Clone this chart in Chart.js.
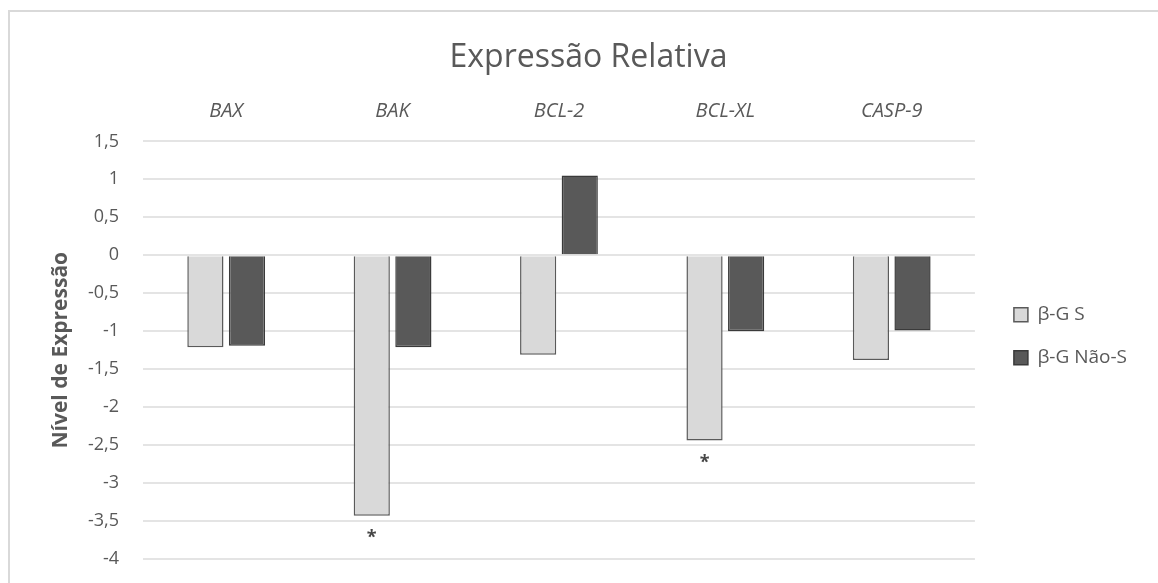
<!DOCTYPE html>
<html lang="pt">
<head>
<meta charset="utf-8">
<title>Expressão Relativa</title>
<script src="https://cdn.jsdelivr.net/npm/chart.js@4.4.1/dist/chart.umd.min.js"></script>
<style>
  html, body { margin: 0; padding: 0; background: #ffffff; }
  #wrap { width: 1158px; height: 583px; position: relative; }
</style>
</head>
<body>
<div id="wrap"><canvas id="chart" width="1158" height="583"></canvas></div>
<script>
// Genes analysed
const genes = ['BAX', 'BAK', 'BCL-2', 'BCL-XL', 'CASP-9'];
// Relative expression levels per group
const serieS = [-1.21, -3.43, -1.31, -2.44, -1.38];
const serieNaoS = [-1.19, -1.21, 1.05, -1.0, -0.99];
// Significance flags for the β-G S group
const signifS = [false, true, false, true, false];
// Value-axis range and step
const yMin = -4;
const yMax = 1.5;
const yStep = 0.5;

const textGray = '#595959';
const fontFamily = '"Open Sans", Lato, sans-serif';

// Page frame and white background
const framePlugin = {
  id: 'frame',
  beforeDraw(chart) {
    const ctx = chart.ctx;
    ctx.save();
    ctx.fillStyle = '#ffffff';
    ctx.fillRect(0, 0, chart.width, chart.height);
    ctx.strokeStyle = '#d9d9d9';
    ctx.lineWidth = 2;
    ctx.strokeRect(9, 11, chart.width + 20, chart.height + 20);
    ctx.restore();
  }
};

// Asterisks below significant bars
const starPlugin = {
  id: 'stars',
  afterDatasetsDraw(chart) {
    const meta = chart.getDatasetMeta(0);
    const ctx = chart.ctx;
    ctx.save();
    ctx.fillStyle = '#454545';
    ctx.font = 'bold 18px ' + fontFamily;
    ctx.textAlign = 'center';
    ctx.textBaseline = 'alphabetic';
    meta.data.forEach((bar, i) => {
      if (signifS[i]) {
        ctx.fillText('*', bar.x, bar.y + 27);
      }
    });
    ctx.restore();
  }
};

new Chart(document.getElementById('chart'), {
  type: 'bar',
  data: {
    labels: genes,
    datasets: [
      {
        label: 'β-G S',
        data: serieS,
        backgroundColor: '#d9d9d9',
        borderColor: '#5a5a5a',
        borderWidth: 1.5
      },
      {
        label: 'β-G Não-S',
        data: serieNaoS,
        backgroundColor: '#595959',
        borderColor: '#3a3a3a',
        borderWidth: 1.5
      }
    ]
  },
  options: {
    responsive: false,
    animation: false,
    devicePixelRatio: 1,
    layout: { padding: { top: 39, left: 40, right: 21, bottom: 24 } },
    datasets: {
      bar: { categoryPercentage: 0.5, barPercentage: 0.87 }
    },
    plugins: {
      title: {
        display: true,
        text: 'Expressão Relativa',
        color: textGray,
        font: { family: fontFamily, size: 32, weight: 'normal' },
        padding: { top: 0, bottom: 4 }
      },
      legend: {
        position: 'right',
        align: 'center',
        title: {
          display: true,
          text: ' ',
          font: { family: fontFamily, size: 12 },
          padding: { top: 60, bottom: 0 }
        },
        labels: {
          color: textGray,
          font: { family: fontFamily, size: 19 },
          boxWidth: 14,
          boxHeight: 14,
          padding: 24
        }
      },
      tooltip: { enabled: false }
    },
    scales: {
      x: {
        position: 'top',
        grid: { display: false, drawTicks: false },
        border: { display: false },
        ticks: {
          color: textGray,
          font: { family: fontFamily, size: 20, style: 'italic' },
          padding: 18
        }
      },
      y: {
        min: yMin,
        max: yMax,
        grid: {
          color: '#e4e4e4',
          lineWidth: 2,
          drawTicks: true,
          tickLength: 11,
          tickColor: 'rgba(0,0,0,0)'
        },
        border: { display: false },
        ticks: {
          stepSize: yStep,
          color: textGray,
          font: { family: fontFamily, size: 18 },
          padding: 13,
          callback: v => String(v).replace('.', ',')
        },
        title: {
          display: true,
          text: 'Nível de Expressão',
          color: textGray,
          font: { family: fontFamily, size: 21, weight: 'bold' },
          padding: { top: 8, bottom: 8 }
        },
        afterFit(scale) { scale.width = 103; }
      },
      // empty strip between the plot and the legend
      gap: {
        position: 'right',
        display: true,
        grid: { display: false, drawTicks: false },
        border: { display: false },
        ticks: { display: false },
        afterFit(scale) { scale.width = 15; }
      }
    }
  },
  plugins: [framePlugin, starPlugin]
});
</script>
</body>
</html>
